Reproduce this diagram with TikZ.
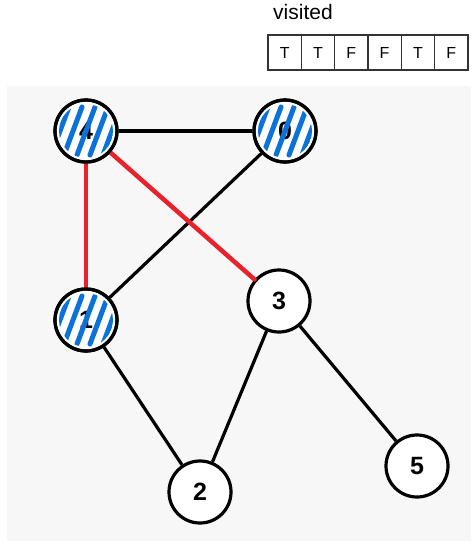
\documentclass[tikz,border=0pt]{standalone}
\usepackage{fontspec}
\setmainfont{Liberation Sans}
\usepackage{xcolor}
\usepackage{tikz}
\usetikzlibrary{calc}

\definecolor{bgGray}{HTML}{F7F7F7}
\definecolor{hatchBlue}{HTML}{0A72D8}
\definecolor{pathRed}{HTML}{E8212A}

% blue strokes over a visited vertex
\newcommand{\hatchnode}[1]{
  \begin{scope}
    \clip (#1) circle (27);
    \foreach \i in {-39,-26,...,39}
      \draw[hatchBlue, line width=5pt, line cap=round]
        ($(#1)+(\i-9,24)$) -- ($(#1)+(\i+9,-24)$);
  \end{scope}
  \draw[line width=3.2pt] (#1) circle (31);
}

\begin{document}
\begin{tikzpicture}[x=1pt, y=-1pt,
    vertex/.style={circle, draw, fill=white, line width=3.2pt, minimum size=62pt,
      inner sep=0pt, font=\bfseries\fontsize{25}{25}\selectfont},
    cell/.style={draw=black!80, line width=1.3pt, minimum width=33.3pt, minimum height=35pt,
      inner sep=0pt, font=\fontsize{16}{16}\selectfont},
    edge/.style={line width=3.2pt},
    tree/.style={pathRed, line width=4.5pt, line cap=round}
    ]
    \useasboundingbox (0,0) rectangle (476,544);
    \fill[bgGray] (7,86) rectangle (471,541);

    % visited array
    \node[font=\fontsize{21}{21}\selectfont] (lbl) at (303,12) {visited};
    \foreach \v [count=\k from 0] in {T,T,F,F,T,F}
      \node[cell] (c\k) at ({284.7+33.3*\k},52.5) {\v};

    % vertices
    \node[vertex] (v4) at (86,131) {4};
    \node[vertex] (v0) at (285,131) {0};
    \node[vertex] (v1) at (86,320) {1};
    \node[vertex] (v3) at (279,301) {3};
    \node[vertex] (v2) at (200,492) {2};
    \node[vertex] (v5) at (417,466) {5};

    % edges
    \draw[edge] (v4) -- (v0);
    \draw[edge] (v0) -- (v1);
    \draw[edge] (v1) -- (v2);
    \draw[edge] (v3) -- (v2);
    \draw[edge] (v3) -- (v5);
    \draw[tree] (v4) -- (v1);
    \draw[tree] (v4) -- (v3);

    \hatchnode{v4}
    \hatchnode{v0}
    \hatchnode{v1}
  \end{tikzpicture}
\end{document}
